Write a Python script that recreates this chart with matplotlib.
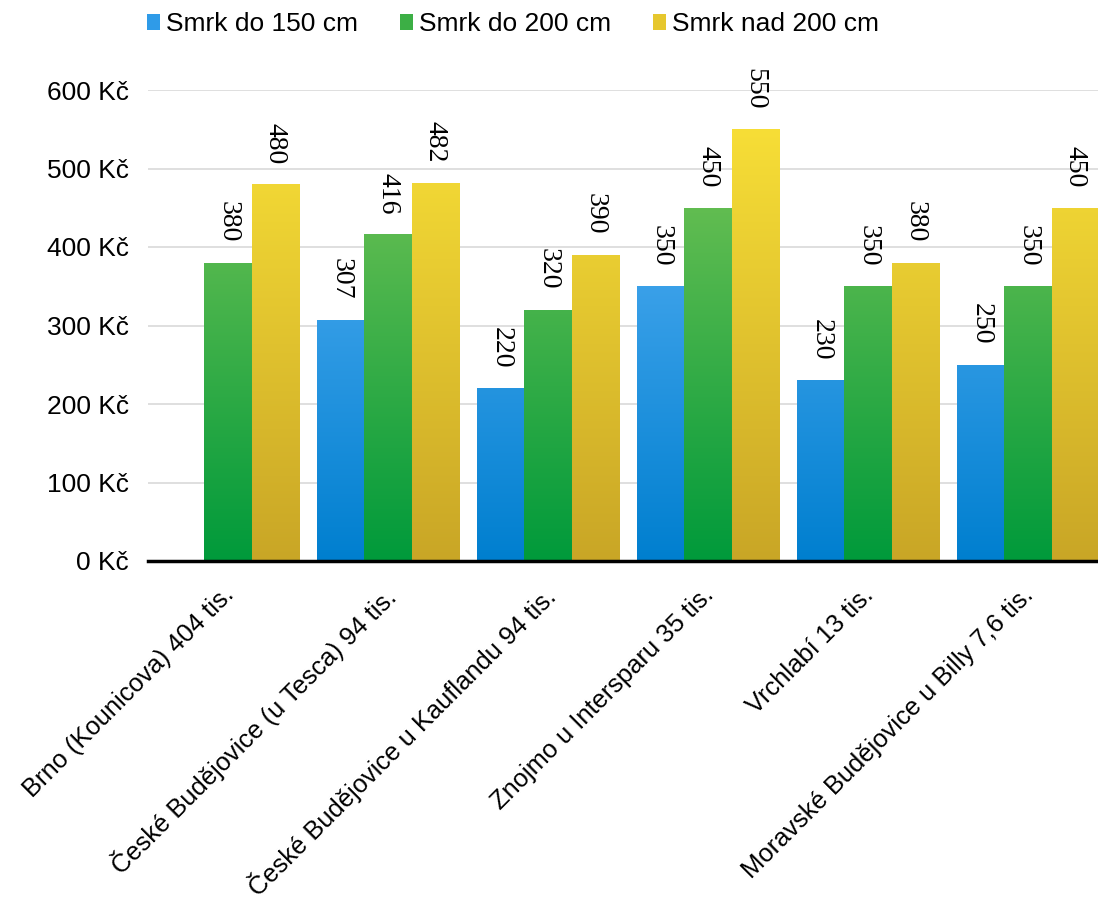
import numpy as np
import matplotlib
matplotlib.use('Agg')
import matplotlib.pyplot as plt
from matplotlib.colors import LinearSegmentedColormap
from matplotlib.patches import Patch
from matplotlib.font_manager import FontProperties

plt.rcParams['font.family'] = ['Liberation Sans', 'DejaVu Sans']

categories = ['Brno (Kounicova) 404 tis.',
              'České Budějovice (u Tesca) 94 tis.',
              'České Budějovice u Kauflandu 94 tis.',
              'Znojmo u Intersparu 35 tis.',
              'Vrchlabí 13 tis.',
              'Moravské Budějovice u Billy 7,6 tis.']
series = ['Smrk do 150 cm', 'Smrk do 200 cm', 'Smrk nad 200 cm']
smrk_150 = [np.nan, 307, 220, 350, 230, 250]
smrk_200 = [380, 416, 320, 450, 350, 350]
smrk_nad = [480, 482, 390, 550, 380, 450]
yticks = [0, 100, 200, 300, 400, 500, 600]

# top colour, bottom colour of each gradient
grads = [('#63b8fb', '#007fcf'),
         ('#82c858', '#009a3b'),
         ('#fbe338', '#c9a626')]

serif = FontProperties(family=['Liberation Serif', 'DejaVu Serif'], size=20)

fig = plt.figure(figsize=(10.98, 9.02), dpi=100)
ax = fig.add_axes([148 / 1098, 1 - 561 / 902, 960 / 1098, 471 / 902])

x = np.arange(len(categories))
w = 0.294
values = [smrk_150, smrk_200, smrk_nad]

for i, (vals, (top, bot)) in enumerate(zip(values, grads)):
    cmap = LinearSegmentedColormap.from_list('g%d' % i, [bot, top])
    bars = ax.bar(x + (i - 1) * w, vals, w, color='none', edgecolor='none', zorder=2)
    for b, v in zip(bars, vals):
        if np.isnan(v):
            continue
        x0 = b.get_x()
        h = b.get_height()
        grad = np.linspace(0, 1, 256).reshape(-1, 1)
        im = ax.imshow(grad, cmap=cmap, origin='lower', aspect='auto',
                       extent=[x0, x0 + b.get_width(), 0, 600], zorder=2)
        im.set_clip_path(b)
        ax.annotate('%d' % v, (x0 + b.get_width() / 2, h), xytext=(0, 14.5),
                    textcoords='offset points', rotation=-90, ha='center',
                    va='bottom', fontproperties=serif, annotation_clip=False)

ax.set_xlim(-0.5, 5.5)
ax.set_ylim(0, 600)
ax.set_yticks(yticks)
ax.set_yticklabels(['%d Kč' % t for t in yticks], fontsize=19)
ax.tick_params(axis='y', length=0, pad=14)
ax.tick_params(axis='x', length=0, pad=15.5)
ax.set_xticks(x - 0.04)
ax.set_xticklabels(categories, rotation=45, ha='right', va='top',
                   rotation_mode='anchor', fontsize=18.4)
ax.grid(axis='y', color='#d9d9d9', linewidth=1.2, zorder=0)
ax.set_axisbelow(True)
for s in ['left', 'right', 'top']:
    ax.spines[s].set_visible(False)
ax.spines['bottom'].set_linewidth(2.5)
ax.spines['bottom'].set_zorder(3)

handles = [Patch(facecolor=c, edgecolor='none') for c in ['#2f9be8', '#3caf45', '#e6c72e']]
fig.legend(handles, series, loc='upper left', bbox_to_anchor=(147 / 1098, 1 - 12 / 902),
           ncol=3, frameon=False, fontsize=19, handlelength=0.5, handleheight=0.55,
           handletextpad=0.22, columnspacing=1.58, borderpad=0, borderaxespad=0)

fig.savefig('out.png', dpi=100)
